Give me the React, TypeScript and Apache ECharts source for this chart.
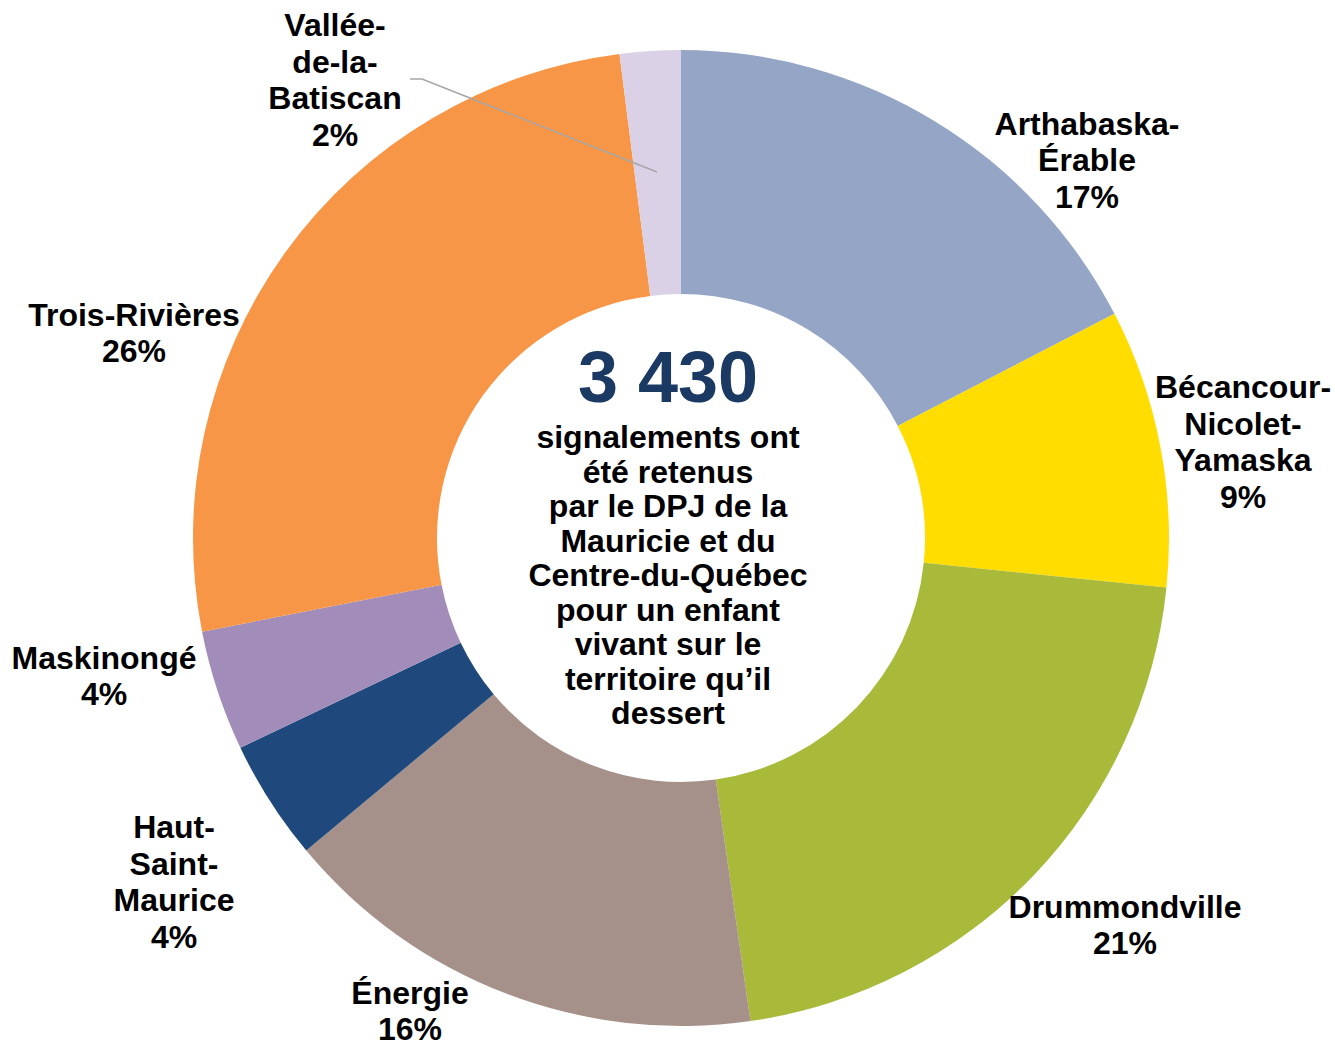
import React, { useEffect, useRef } from "react";
import * as echarts from "echarts";

const REGIONS = [
  "Arthabaska-\nÉrable",
  "Bécancour-\nNicolet-\nYamaska",
  "Drummondville",
  "Énergie",
  "Haut-\nSaint-\nMaurice",
  "Maskinongé",
  "Trois-Rivières",
  "Vallée-\nde-la-\nBatiscan",
];
const COUNTS = [597, 316, 724, 556, 137, 137, 894, 69];
const COLORS = ["#94A5C6", "#FFDD00", "#A9BA3A", "#A59189", "#1F497D", "#A28DBA", "#F79646", "#DAD1E6"];
const CENTER_TEXT = [
  "signalements ont",
  "été retenus",
  "par le DPJ de la",
  "Mauricie et du",
  "Centre-du-Québec",
  "pour un enfant",
  "vivant sur le",
  "territoire qu’il",
  "dessert",
];

// layout of label anchors (px in chart)
const LABEL_POS: number[][] = [
  [1087, 160],
  [1243, 442],
  [1125, 925],
  [410, 1011],
  [174, 882],
  [104, 676],
  [134, 333],
  [335, 80],
];

const FONT = 'Arial, "Liberation Sans", sans-serif';

export default function App() {
  const ref = useRef<HTMLDivElement>(null);
  useEffect(() => {
    if (!ref.current) return;
    const chart = echarts.init(ref.current, null, { renderer: "svg" });
    const total = COUNTS.reduce((a, b) => a + b, 0);
    const totalStr = String(total).replace(/\B(?=(\d{3})+(?!\d))/g, " ");
    chart.setOption({
      animation: false,
      backgroundColor: "#ffffff",
      series: [
        {
          type: "pie",
          center: [681, 538],
          radius: [244, 488],
          startAngle: 90,
          clockwise: true,
          avoidLabelOverlap: false,
          itemStyle: { borderWidth: 0 },
          label: {
            show: true,
            position: "outside",
            color: "#000000",
            fontFamily: FONT,
            fontWeight: "bold",
            fontSize: 32,
            lineHeight: 36.5,
            align: "center",
            formatter: (p: any) => `${p.name}\n${Math.round((p.value / total) * 100)}%`,
          },
          labelLine: { show: false },
          labelLayout: (p: any) => {
            const i = p.dataIndex;
            return {
              x: LABEL_POS[i][0],
              y: LABEL_POS[i][1],
              align: "center",
              verticalAlign: "middle",
            };
          },
          emphasis: { disabled: true },
          data: REGIONS.map((name, i) => ({
            name,
            value: COUNTS[i],
            itemStyle: { color: COLORS[i] },
          })),
        },
      ],
      graphic: [
        {
          type: "polyline",
          z: 100,
          shape: {
            points: [
              [410, 79],
              [422, 79],
              [657, 172],
            ],
          },
          style: { stroke: "#A6A6A6", lineWidth: 1.5, fill: "none" },
        },
        {
          type: "text",
          x: 668,
          y: 377,
          z: 100,
          style: {
            text: totalStr,
            fill: "#1B3A63",
            font: `bold 72px ${FONT}`,
            align: "center",
            verticalAlign: "middle",
          },
        },
        {
          type: "text",
          x: 668,
          y: 575,
          z: 100,
          style: {
            text: CENTER_TEXT.join("\n"),
            fill: "#000000",
            font: `bold 32px ${FONT}`,
            lineHeight: 34.5,
            align: "center",
            verticalAlign: "middle",
          },
        },
      ],
    });
    return () => chart.dispose();
  }, []);
  return (
    <div
      ref={ref}
      style={{ position: "fixed", left: 0, top: 0, width: 1335, height: 1045 }}
    />
  );
}
